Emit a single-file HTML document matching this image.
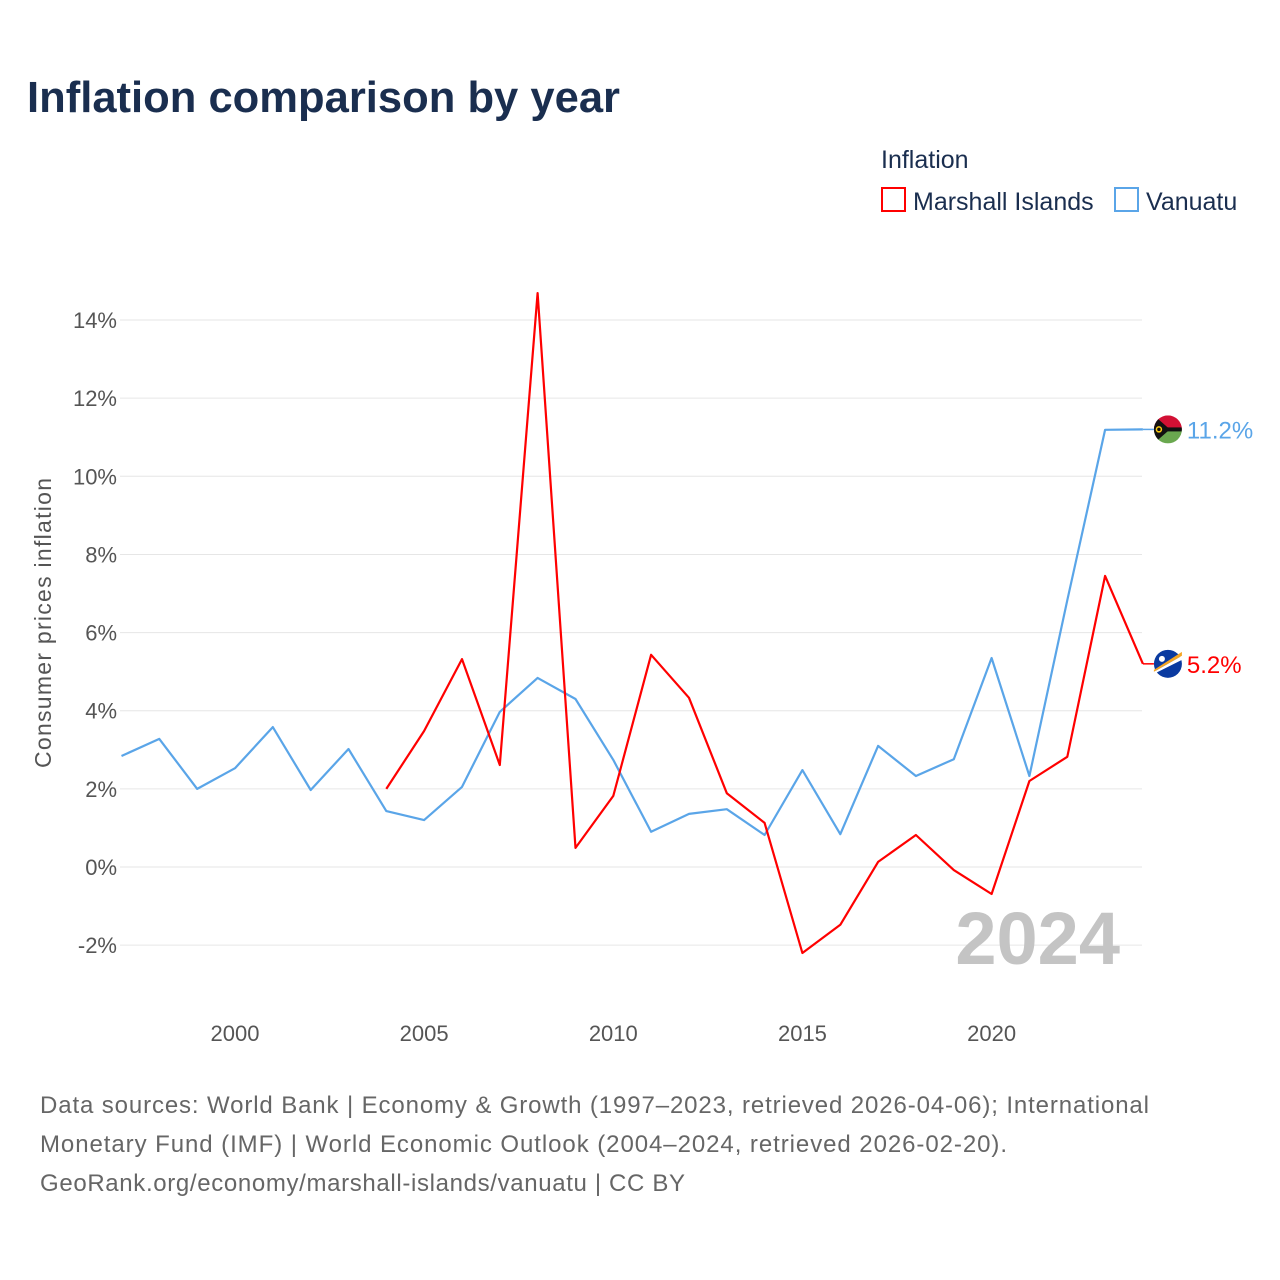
<!DOCTYPE html>
<html><head><meta charset="utf-8">
<style>
body{margin:0;background:#fff;}
svg{display:block;font-family:"Liberation Sans",sans-serif;}
</style></head>
<body>
<svg id="chart" width="1280" height="1280" viewBox="0 0 1280 1280">
<text x="27" y="112" font-size="44" font-weight="bold" fill="#1a2e4f" textLength="593" lengthAdjust="spacingAndGlyphs">Inflation comparison by year</text>
<text x="881" y="168" font-size="25" fill="#1a2e4f">Inflation</text>
<g>
<rect x="882" y="188" width="23" height="23" fill="none" stroke="#ff0000" stroke-width="2"/>
<text x="913" y="210" font-size="25" fill="#1a2e4f">Marshall Islands</text></g>
<g>
<rect x="1115" y="188" width="23" height="23" fill="none" stroke="#5aa5e8" stroke-width="2"/>
<text x="1146" y="210" font-size="25" fill="#1a2e4f">Vanuatu</text></g>
<text transform="translate(51,623) rotate(-90)" text-anchor="middle" font-size="23" fill="#555" textLength="290">Consumer prices inflation</text>
<g id="grid"></g><g id="yt"></g><g id="xt"></g>
<text x="1120" y="964" text-anchor="end" font-size="74" font-weight="bold" fill="#c4c4c4">2024</text>
<g id="series"></g>
<g font-size="24" fill="#666">
<text x="40" y="1113" textLength="1109">Data sources: World Bank | Economy &amp; Growth (1997–2023, retrieved 2026-04-06); International</text>
<text x="40" y="1152" textLength="967">Monetary Fund (IMF) | World Economic Outlook (2004–2024, retrieved 2026-02-20).</text>
<text x="40" y="1191" textLength="645">GeoRank.org/economy/marshall-islands/vanuatu | CC BY</text>
</g>
</svg>
<script>
const vanYears=[1997,1998,1999,2000,2001,2002,2003,2004,2005,2006,2007,2008,2009,2010,2011,2012,2013,2014,2015,2016,2017,2018,2019,2020,2021,2022,2023,2024];
const vanValues=[2.84,3.28,2.0,2.53,3.58,1.97,3.02,1.43,1.2,2.05,3.97,4.84,4.3,2.74,0.9,1.36,1.48,0.82,2.48,0.84,3.1,2.33,2.76,5.35,2.33,6.83,11.19,11.2];
const mhYears=[2004,2005,2006,2007,2008,2009,2010,2011,2012,2013,2014,2015,2016,2017,2018,2019,2020,2021,2022,2023,2024];
const mhValues=[2.0,3.48,5.32,2.61,14.69,0.49,1.82,5.43,4.33,1.89,1.13,-2.2,-1.48,0.13,0.82,-0.08,-0.69,2.2,2.82,7.45,5.2];
const yTicks=[-2,0,2,4,6,8,10,12,14];
const xTicks=[2000,2005,2010,2015,2020];
const NS="http://www.w3.org/2000/svg";
const X=y=>235+(y-2000)*37.83;
const Y=v=>867-v*39.07;
function mk(t,a,p){const e=document.createElementNS(NS,t);for(const k in a)e.setAttribute(k,a[k]);p.appendChild(e);return e;}
const grid=document.getElementById('grid'),yt=document.getElementById('yt'),xt=document.getElementById('xt'),ser=document.getElementById('series');
yTicks.forEach(v=>{
 const l=mk('line',{x1:120,x2:1142,y1:Y(v),y2:Y(v),stroke:'#e6e6e6','stroke-width':1},grid);
 
 
 const t=mk('text',{x:117,y:Y(v)+8,'text-anchor':'end','font-size':22,fill:'#555'},yt);
 t.textContent=v+'%';
 
 
});
xTicks.forEach(y=>{
 const t=mk('text',{x:X(y),y:1041,'text-anchor':'middle','font-size':22,fill:'#555'},xt);
 t.textContent=y;
 
 
});
function line(years,vals,color,name){
 const d=years.map((y,i)=>(i?'L':'M')+X(y).toFixed(1)+','+Y(vals[i]).toFixed(1)).join('');
 const p=mk('path',{d:d,fill:'none',stroke:color,'stroke-width':2.2,'stroke-linejoin':'round'},ser);
 
 
}
line(vanYears,vanValues,'#5aa5e8','vanuatu-line');
line(mhYears,mhValues,'#ff0000','marshall-islands-line');
function endLabel(vals,color,name,flag){
 const v=vals[vals.length-1],x0=X(2024),y=Y(v),cx=x0+25;
 const l=mk('line',{x1:x0,x2:cx-14,y1:y,y2:y,stroke:color,'stroke-width':1.5},ser);
 
 
 const g=mk('g',{},ser);
 
 
 flag(g,cx,y);
 const t=mk('text',{x:cx+19,y:y+9,'font-size':24,fill:color},ser);
 t.textContent=v.toFixed(1)+'%';
 
 
}
endLabel(vanValues,'#5aa5e8','vanuatu',(g,cx,y)=>{
 mk('clipPath',{id:'cv'},g).appendChild(document.createElementNS(NS,'circle')).setAttribute('r',14);
 g.lastChild.firstChild.setAttribute('cx',cx);g.lastChild.firstChild.setAttribute('cy',y);
 const s=mk('g',{'clip-path':'url(#cv)'},g);
 mk('rect',{x:cx-14,y:y-14,width:28,height:14,fill:'#d21034'},s);
 mk('rect',{x:cx-14,y:y,width:28,height:14,fill:'#6aa84f'},s);
 mk('rect',{x:cx-14,y:y-2,width:28,height:4,fill:'#111'},s);
 mk('polygon',{points:`${cx-14},${y-14} ${cx+2},${y} ${cx-14},${y+14}`,fill:'#111'},s);
 mk('circle',{cx:cx-9,cy:y,r:2.5,fill:'none',stroke:'#fdce12','stroke-width':1.5},s);
});
endLabel(mhValues,'#ff0000','marshall-islands',(g,cx,y)=>{
 mk('circle',{cx:cx,cy:y,r:14,fill:'#0a3aa0'},g);
 mk('polygon',{points:`${cx-14},${y+6} ${cx+14},${y-12} ${cx+14},${y-8} ${cx-14},${y+8}`,fill:'#f5a623'},g);
 mk('polygon',{points:`${cx-14},${y+8} ${cx+14},${y-8} ${cx+14},${y-4} ${cx-14},${y+10}`,fill:'#fff'},g);
 mk('circle',{cx:cx-6,cy:y-5,r:3,fill:'#fff'},g);
});
</script>
</body></html>
